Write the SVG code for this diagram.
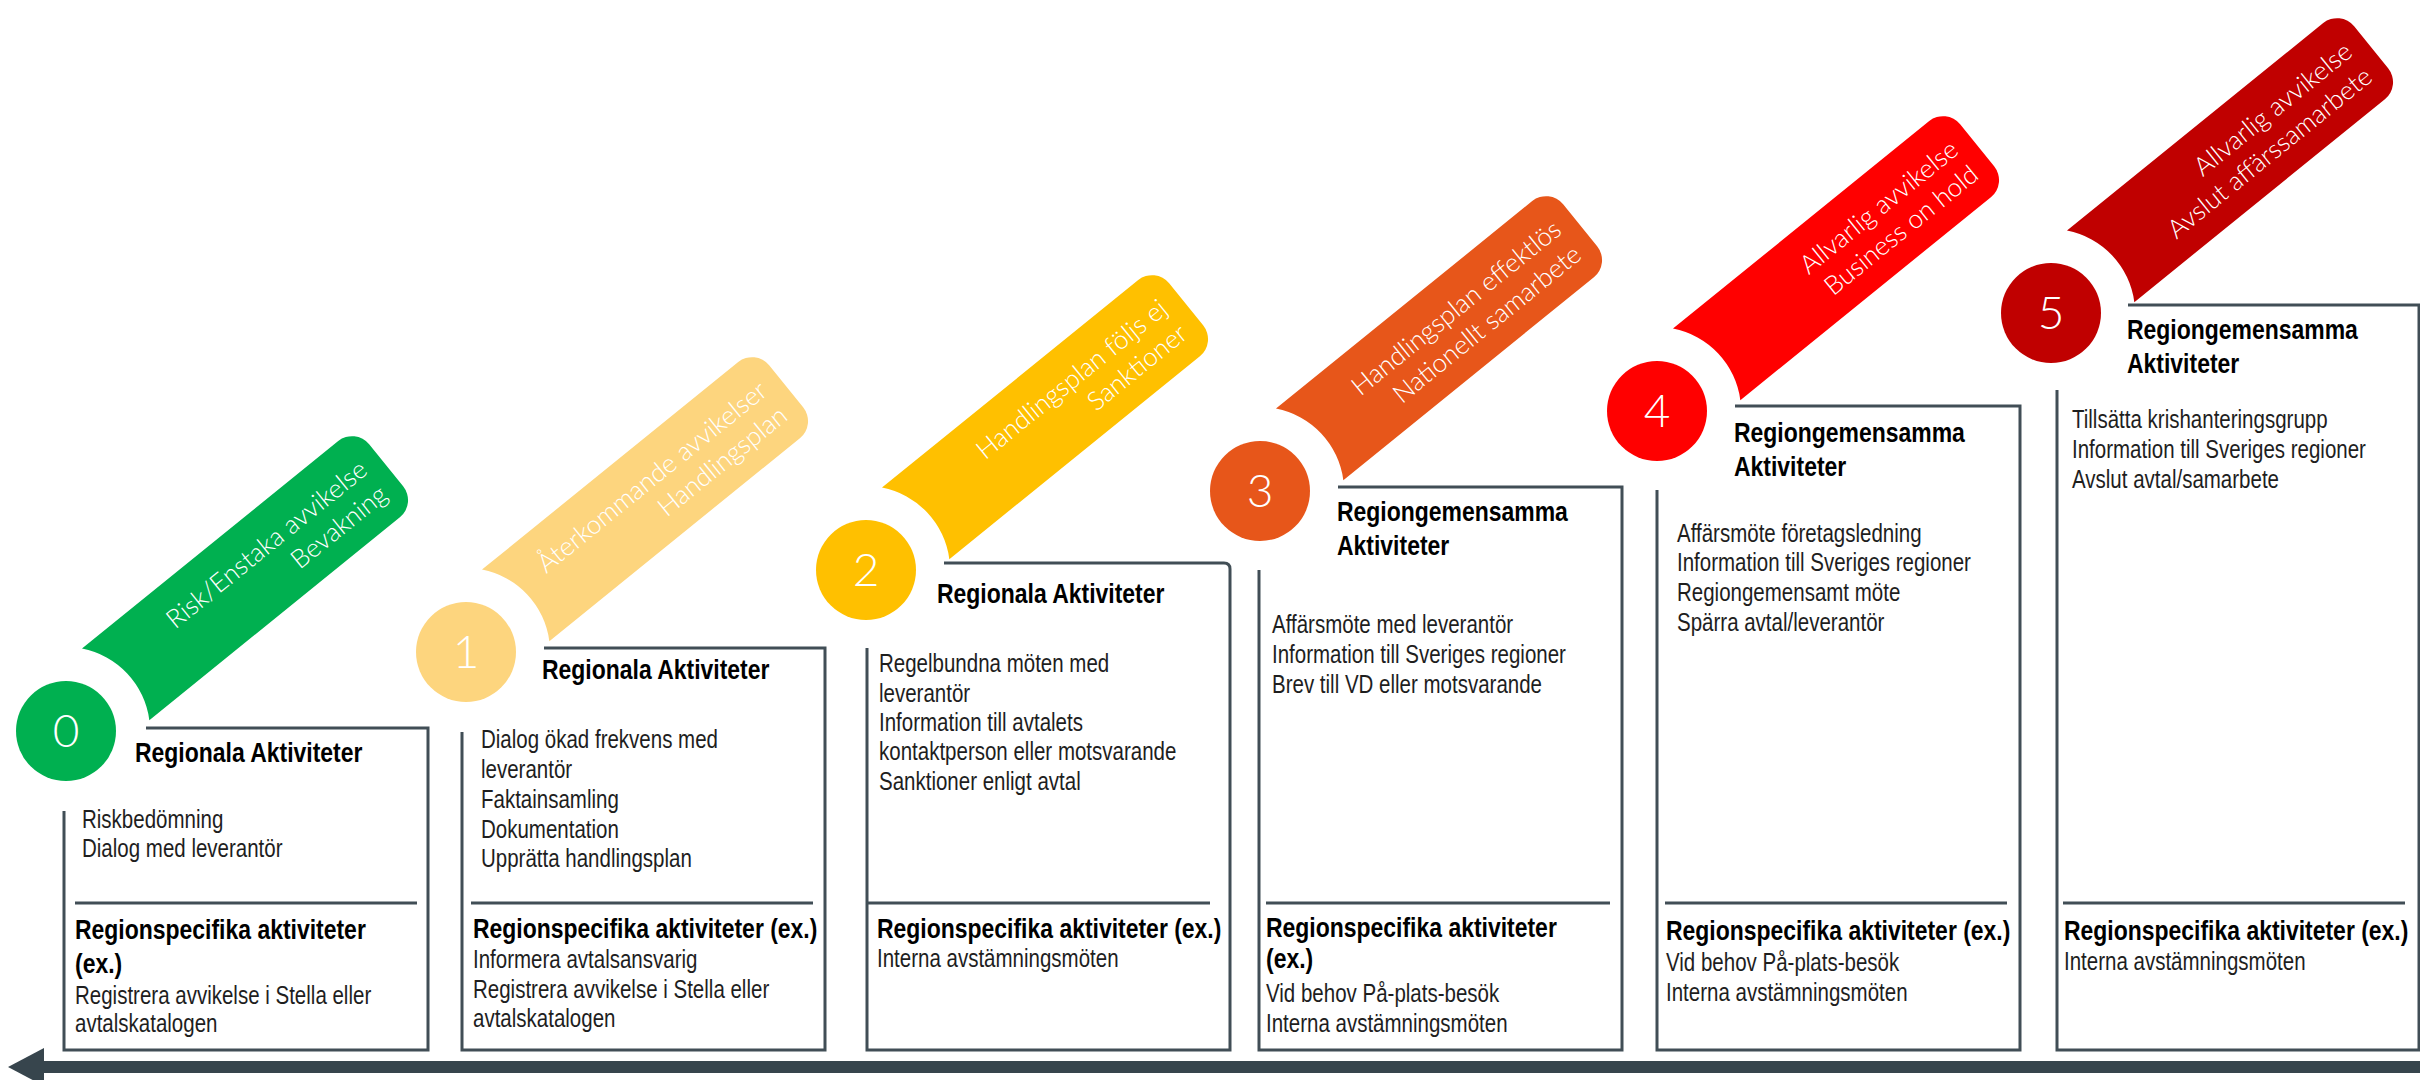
<svg xmlns="http://www.w3.org/2000/svg" xmlns:xlink="http://www.w3.org/1999/xlink" width="2420" height="1080" viewBox="0 0 2420 1080">
<style>
.h{font-family:"Liberation Sans",Arial,sans-serif;font-weight:bold;font-size:28px;fill:#000}
.t{font-family:"Liberation Sans",Arial,sans-serif;font-size:25px;fill:#1e1e1e}
.bt{font-family:Lato,"Open Sans","Liberation Sans",sans-serif;font-weight:300;font-size:26px;fill:#fff;text-anchor:end}
.num{font-family:Lato,"Open Sans","Liberation Sans",sans-serif;font-weight:300;font-size:46px;fill:#fff;text-anchor:middle}
.box{fill:none;stroke:#414E56;stroke-width:3}
.sep{stroke:#414E56;stroke-width:3}
</style>
<defs>
<path id="band" d="M64.3,-54 L394,-54 A22,22 0 0 1 416,-32 L416,22 A22,22 0 0 1 394,44 L71.6,44 A84,84 0 0 0 64.3,-54 Z"/>
</defs>
<rect width="2420" height="1080" fill="#fff"/>

<g id="connectors">
<rect x="40" y="1061" width="2380" height="12" fill="#37454D"/>
<polygon points="8,1067 44,1048 44,1086" fill="#37454D"/>
</g>

<g id="stage0">
<g transform="translate(66,731) rotate(-39)">
<use xlink:href="#band" fill="#00B050"/>
<text class="bt" x="398" y="-10">Risk/Enstaka avvikelse</text>
<text class="bt" x="398" y="22">Bevakning</text>
</g>
<circle cx="66" cy="731" r="50" fill="#00B050"/>
<text class="num" x="66" y="747">0</text>
<path class="box" d="M146,728 H428 V1050 H64 V811"/>
<line class="sep" x1="75" y1="903" x2="417" y2="903"/>
<text class="h" transform="translate(135,762) scale(.82,1)">Regionala Aktiviteter</text>
<text class="t" transform="translate(82,828) scale(.82,1)">Riskbedömning</text>
<text class="t" transform="translate(82,857) scale(.82,1)">Dialog med leverantör</text>
<text class="h" transform="translate(75,939) scale(.82,1)">Regionspecifika aktiviteter</text>
<text class="h" transform="translate(75,973) scale(.82,1)">(ex.)</text>
<text class="t" transform="translate(75,1004) scale(.82,1)">Registrera avvikelse i Stella eller</text>
<text class="t" transform="translate(75,1032) scale(.82,1)">avtalskatalogen</text>
</g>

<g id="stage1">
<g transform="translate(466,652) rotate(-39)">
<use xlink:href="#band" fill="#FDD57E"/>
<text class="bt" x="398" y="-10">Återkommande avvikelser</text>
<text class="bt" x="398" y="22">Handlingsplan</text>
</g>
<circle cx="466" cy="652" r="50" fill="#FDD57E"/>
<text class="num" x="466" y="668">1</text>
<path class="box" d="M544,648 H825 V1050 H462 V732"/>
<line class="sep" x1="471" y1="903" x2="813" y2="903"/>
<text class="h" transform="translate(542,679) scale(.82,1)">Regionala Aktiviteter</text>
<text class="t" transform="translate(481,748) scale(.82,1)">Dialog ökad frekvens med</text>
<text class="t" transform="translate(481,778) scale(.82,1)">leverantör</text>
<text class="t" transform="translate(481,808) scale(.82,1)">Faktainsamling</text>
<text class="t" transform="translate(481,838) scale(.82,1)">Dokumentation</text>
<text class="t" transform="translate(481,867) scale(.82,1)">Upprätta handlingsplan</text>
<text class="h" transform="translate(473,938) scale(.82,1)">Regionspecifika aktiviteter (ex.)</text>
<text class="t" transform="translate(473,968) scale(.82,1)">Informera avtalsansvarig</text>
<text class="t" transform="translate(473,998) scale(.82,1)">Registrera avvikelse i Stella eller</text>
<text class="t" transform="translate(473,1027) scale(.82,1)">avtalskatalogen</text>
</g>

<g id="stage2">
<g transform="translate(866,570) rotate(-39)">
<use xlink:href="#band" fill="#FFC000"/>
<text class="bt" x="398" y="-10">Handlingsplan följs ej</text>
<text class="bt" x="398" y="22">Sanktioner</text>
</g>
<circle cx="866" cy="570" r="50" fill="#FFC000"/>
<text class="num" x="866" y="586">2</text>
<path class="box" d="M944,563 H1224 Q1230,563 1230,569 V1050 H867 V648"/>
<line class="sep" x1="867" y1="903" x2="1210" y2="903"/>
<text class="h" transform="translate(937,603) scale(.82,1)">Regionala Aktiviteter</text>
<text class="t" transform="translate(879,672) scale(.82,1)">Regelbundna möten med</text>
<text class="t" transform="translate(879,702) scale(.82,1)">leverantör</text>
<text class="t" transform="translate(879,731) scale(.82,1)">Information till avtalets</text>
<text class="t" transform="translate(879,760) scale(.82,1)">kontaktperson eller motsvarande</text>
<text class="t" transform="translate(879,790) scale(.82,1)">Sanktioner enligt avtal</text>
<text class="h" transform="translate(877,938) scale(.82,1)">Regionspecifika aktiviteter (ex.)</text>
<text class="t" transform="translate(877,967) scale(.82,1)">Interna avstämningsmöten</text>
</g>

<g id="stage3">
<g transform="translate(1260,491) rotate(-39)">
<use xlink:href="#band" fill="#E7561A"/>
<text class="bt" x="398" y="-10">Handlingsplan effektlös</text>
<text class="bt" x="398" y="22">Nationellt samarbete</text>
</g>
<circle cx="1260" cy="491" r="50" fill="#E7561A"/>
<text class="num" x="1260" y="507">3</text>
<path class="box" d="M1338,487 H1622 V1050 H1259 V570"/>
<line class="sep" x1="1266" y1="903" x2="1610" y2="903"/>
<text class="h" transform="translate(1337,521) scale(.82,1)">Regiongemensamma</text>
<text class="h" transform="translate(1337,555) scale(.82,1)">Aktiviteter</text>
<text class="t" transform="translate(1272,633) scale(.82,1)">Affärsmöte med leverantör</text>
<text class="t" transform="translate(1272,663) scale(.82,1)">Information till Sveriges regioner</text>
<text class="t" transform="translate(1272,693) scale(.82,1)">Brev till VD eller motsvarande</text>
<text class="h" transform="translate(1266,937) scale(.82,1)">Regionspecifika aktiviteter</text>
<text class="h" transform="translate(1266,968) scale(.82,1)">(ex.)</text>
<text class="t" transform="translate(1266,1002) scale(.82,1)">Vid behov På-plats-besök</text>
<text class="t" transform="translate(1266,1032) scale(.82,1)">Interna avstämningsmöten</text>
</g>

<g id="stage4">
<g transform="translate(1657,411) rotate(-39)">
<use xlink:href="#band" fill="#FF0000"/>
<text class="bt" x="398" y="-10">Allvarlig avvikelse</text>
<text class="bt" x="398" y="22">Business on hold</text>
</g>
<circle cx="1657" cy="411" r="50" fill="#FF0000"/>
<text class="num" x="1657" y="427">4</text>
<path class="box" d="M1735,406 H2020 V1050 H1657 V490"/>
<line class="sep" x1="1665" y1="903" x2="2007" y2="903"/>
<text class="h" transform="translate(1734,442) scale(.82,1)">Regiongemensamma</text>
<text class="h" transform="translate(1734,476) scale(.82,1)">Aktiviteter</text>
<text class="t" transform="translate(1677,542) scale(.82,1)">Affärsmöte företagsledning</text>
<text class="t" transform="translate(1677,571) scale(.82,1)">Information till Sveriges regioner</text>
<text class="t" transform="translate(1677,601) scale(.82,1)">Regiongemensamt möte</text>
<text class="t" transform="translate(1677,631) scale(.82,1)">Spärra avtal/leverantör</text>
<text class="h" transform="translate(1666,940) scale(.82,1)">Regionspecifika aktiviteter (ex.)</text>
<text class="t" transform="translate(1666,971) scale(.82,1)">Vid behov På-plats-besök</text>
<text class="t" transform="translate(1666,1001) scale(.82,1)">Interna avstämningsmöten</text>
</g>

<g id="stage5">
<g transform="translate(2051,313) rotate(-39)">
<use xlink:href="#band" fill="#C00000"/>
<text class="bt" x="398" y="-10">Allvarlig avvikelse</text>
<text class="bt" x="398" y="22">Avslut affärssamarbete</text>
</g>
<circle cx="2051" cy="313" r="50" fill="#C00000"/>
<text class="num" x="2051" y="329">5</text>
<path class="box" d="M2128,305 H2419 V1050 H2057 V390"/>
<line class="sep" x1="2063" y1="903" x2="2405" y2="903"/>
<text class="h" transform="translate(2127,339) scale(.82,1)">Regiongemensamma</text>
<text class="h" transform="translate(2127,373) scale(.82,1)">Aktiviteter</text>
<text class="t" transform="translate(2072,428) scale(.82,1)">Tillsätta krishanteringsgrupp</text>
<text class="t" transform="translate(2072,458) scale(.82,1)">Information till Sveriges regioner</text>
<text class="t" transform="translate(2072,488) scale(.82,1)">Avslut avtal/samarbete</text>
<text class="h" transform="translate(2064,940) scale(.82,1)">Regionspecifika aktiviteter (ex.)</text>
<text class="t" transform="translate(2064,970) scale(.82,1)">Interna avstämningsmöten</text>
</g>
</svg>
